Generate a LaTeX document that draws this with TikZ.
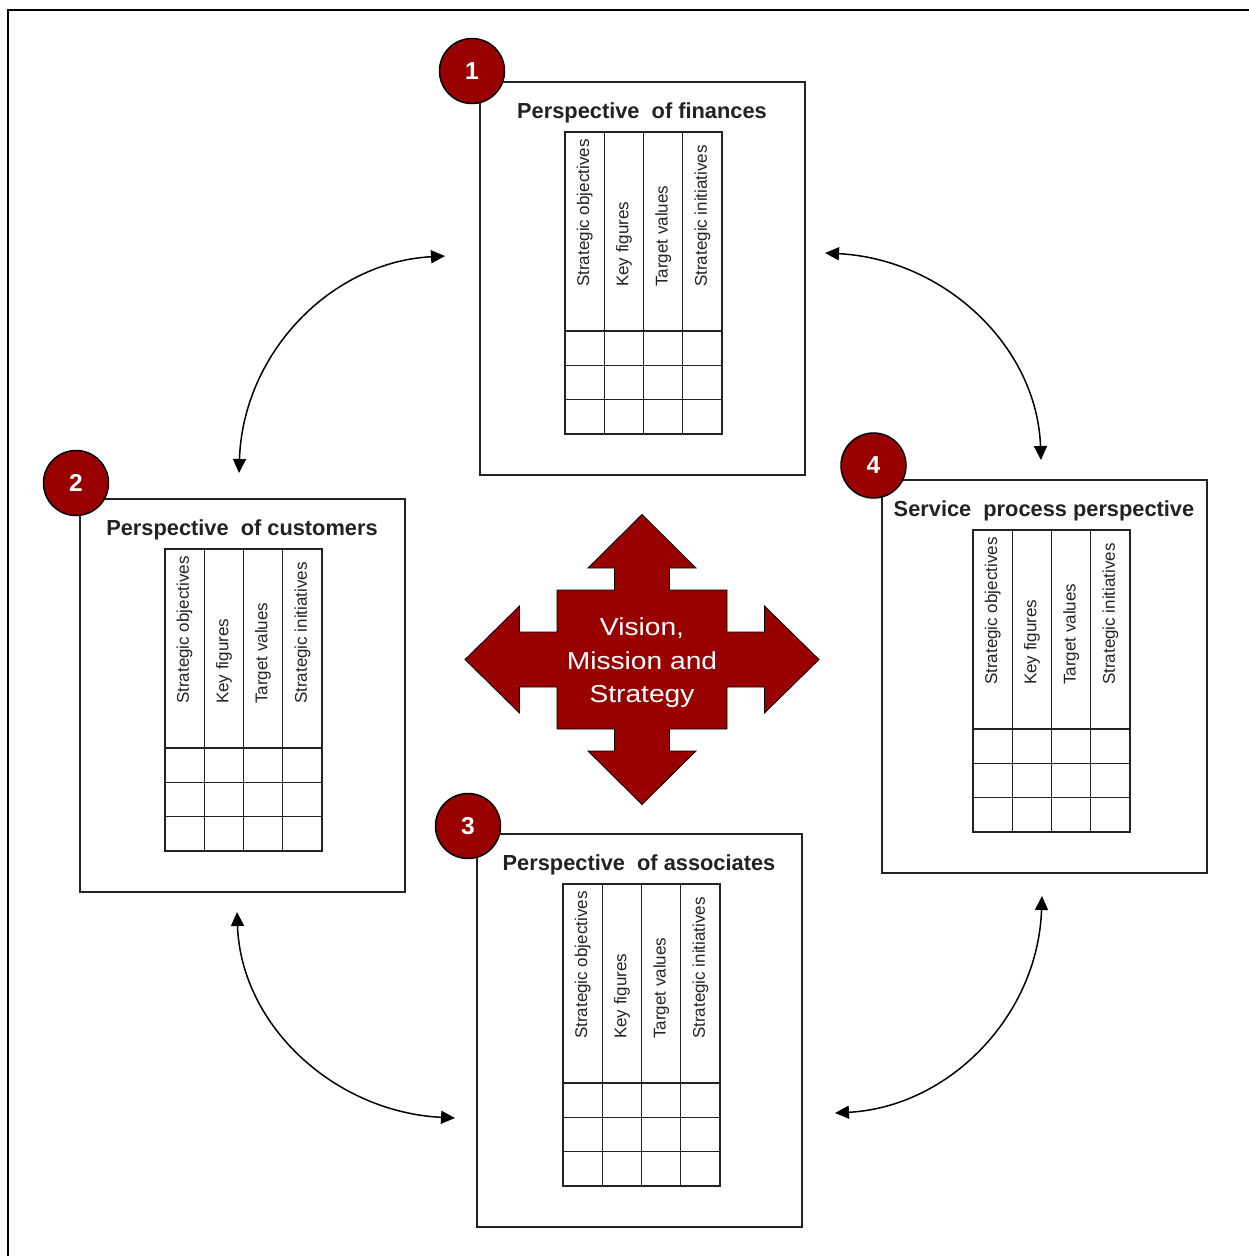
\documentclass[tikz,border=0pt]{standalone}
\usepackage{fontspec}
\setmainfont{Liberation Sans}
\newfontfamily\widesans[FakeStretch=1.15]{Liberation Sans}
\usetikzlibrary{arrows.meta}
\definecolor{bscred}{HTML}{990000}
\definecolor{ink}{HTML}{222222}

\tikzset{
  panelbox/.style={draw=ink, line width=1.5pt, minimum width=325pt, minimum height=393pt,
    inner sep=0pt, outer sep=0pt, anchor=north west},
  paneltitle/.style={font=\fontsize{21.8}{24}\selectfont\bfseries, text=ink, inner sep=0pt},
  gridline/.style={draw=ink, line width=1.4pt},
  collabel/.style={font=\fontsize{17}{19}\selectfont, text=ink, rotate=90, anchor=west, inner sep=0pt},
  badge/.style={circle, draw=black, line width=1.5pt, fill=bscred, minimum size=65pt,
    inner sep=0pt, text=white, font=\fontsize{24.5}{26}\selectfont\bfseries},
  link/.style={line width=1.5pt, draw=black,
    {Triangle[length=14pt,width=13pt]}-{Triangle[length=14pt,width=13pt]}},
  crossarrow/.style={fill=bscred, draw=black, line width=0.8pt},
  crosstext/.style={text=white, align=center, inner sep=0pt,
    font=\widesans\fontsize{24.5}{33.5}\selectfont},
}

% one perspective: box, title, scorecard table and numbered badge
% #1 name, #2 left, #3 top, #4 badge x, #5 badge y, #6 number, #7 title, #8 table offset
\newcommand\perspectivepanel[8]{%
  \begin{scope}[shift={(#2,#3)}]
    \node[panelbox] (#1) at (0,0) {};
    \node[paneltitle, anchor=base] (#1-title) at (162,36) {#7};
    \begin{scope}[shift={(#8,0)}]
      \draw[gridline] (0,50) rectangle (157,352);
      \foreach \col in {1,2,3} \draw[gridline] (39.25*\col,50) -- (39.25*\col,352);
      \foreach \row in {249,283.33,317.67} \draw[gridline] (0,\row) -- (157,\row);
      \node[collabel] (#1-so) at (19.6,205) {Strategic objectives};
      \node[collabel] (#1-kf) at (58.9,205) {Key figures};
      \node[collabel] (#1-tv) at (98.1,205) {Target values};
      \node[collabel] (#1-si) at (137.4,205) {Strategic initiatives};
    \end{scope}
  \end{scope}
  \node[badge] (#1-badge) at (#4,#5) {#6};
}

\begin{document}
\begin{tikzpicture}[x=1pt,y=-1pt]
  \useasboundingbox (0,0) rectangle (1249,1256);
  \fill[white] (0,0) rectangle (1249,1256);
  % outer frame
  \draw[line width=2pt] (8,1256) -- (8,10) -- (1249,10);

  % four perspectives
  \perspectivepanel{fin}{480}{82}{472}{71}{1}{Perspective\ \ of finances}{85}
  \perspectivepanel{cus}{80}{499}{76}{483}{2}{Perspective\ \ of customers}{85}
  \perspectivepanel{ass}{477}{834}{468}{826}{3}{Perspective\ \ of associates}{86}
  \perspectivepanel{ser}{882}{480}{873.5}{465.5}{4}{Service\ \ process perspective}{91}

  % central four-way arrow
  \begin{scope}[shift={(642,659.5)}]
    \draw[crossarrow]
      (0,-145) -- (54,-91.5) -- (27.5,-91.5) -- (27.5,-69.5) -- (85,-69.5) -- (85,-27.5)
      -- (122.5,-27.5) -- (122.5,-53.5) -- (177,0) -- (122.5,53.5) -- (122.5,27.5)
      -- (85,27.5) -- (85,69.5) -- (27.5,69.5) -- (27.5,91.5) -- (54,91.5) -- (0,145)
      -- (-54,91.5) -- (-27.5,91.5) -- (-27.5,69.5) -- (-85,69.5) -- (-85,27.5)
      -- (-122.5,27.5) -- (-122.5,53.5) -- (-177,0) -- (-122.5,-53.5) -- (-122.5,-27.5)
      -- (-85,-27.5) -- (-85,-69.5) -- (-27.5,-69.5) -- (-27.5,-91.5) -- (-54,-91.5) -- cycle;
    \node[crosstext] (vms) at (0,3.5) {Vision,\\Mission and\\Strategy};
  \end{scope}

  % curved links between neighbouring perspectives
  \coordinate (l1a) at (239,473);  \coordinate (l1b) at (445,256);
  \coordinate (l2a) at (825,253);  \coordinate (l2b) at (1041,460);
  \coordinate (l3a) at (237,912);  \coordinate (l3b) at (455,1118);
  \coordinate (l4a) at (1042,896); \coordinate (l4b) at (835,1113);
  \draw[link] (l1a) .. controls (243,353) and (331,262) .. (l1b);
  \draw[link] (l2a) .. controls (944,259) and (1037,346) .. (l2b);
  \draw[link] (l3a) .. controls (241,1026) and (335,1112) .. (l3b);
  \draw[link] (l4a) .. controls (1038,1016) and (949,1107) .. (l4b);
\end{tikzpicture}
\end{document}
